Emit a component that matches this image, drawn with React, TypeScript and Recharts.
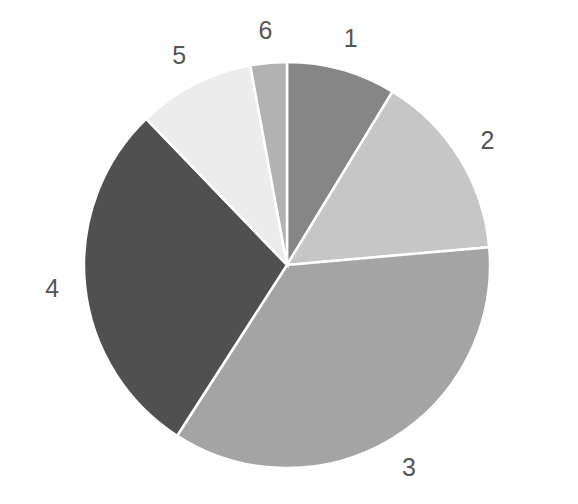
import React from 'react';
import { PieChart, Pie, Cell } from 'recharts';

const LABELS = ['1', '2', '3', '4', '5', '6'];
const VALUES = [8.7, 14.9, 35.5, 28.7, 9.3, 2.9];
const COLORS = ['#868686', '#c6c6c6', '#a4a4a4', '#505050', '#ececec', '#b2b2b2'];

const data = LABELS.map((name, i) => ({ name, value: VALUES[i] }));

const RADIAN = Math.PI / 180;

const renderLabel = (props: any) => {
  const { cx, cy, midAngle, outerRadius, name } = props;
  const r = outerRadius + 33;
  const x = cx + r * Math.cos(-midAngle * RADIAN);
  const y = cy + r * Math.sin(-midAngle * RADIAN);
  return (
    <text
      x={x}
      y={y}
      fill="#555"
      fontSize={25}
      fontFamily="Liberation Sans, Arial, sans-serif"
      textAnchor="middle"
      dominantBaseline="central"
    >
      {name}
    </text>
  );
};

const App: React.FC = () => (
  <div style={{ position: 'absolute', left: 0, top: 0, background: '#fff' }}>
    <PieChart width={578} height={504} margin={{ top: 0, right: 0, bottom: 0, left: 0 }}>
      <Pie
        data={data}
        dataKey="value"
        nameKey="name"
        cx={287}
        cy={265}
        outerRadius={203}
        startAngle={90}
        endAngle={-270}
        stroke="#fff"
        strokeWidth={2.5}
        label={renderLabel}
        labelLine={false}
        isAnimationActive={false}
      >
        {data.map((entry, idx) => (
          <Cell key={`cell-${idx}`} fill={COLORS[idx % COLORS.length]} />
        ))}
      </Pie>
    </PieChart>
  </div>
);

export default App;
